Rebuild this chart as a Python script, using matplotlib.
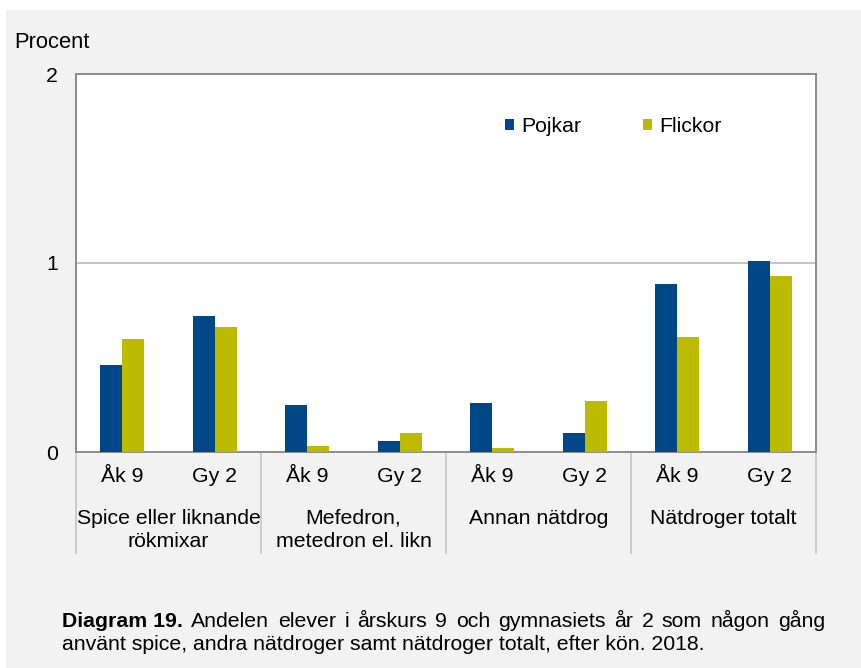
import matplotlib
matplotlib.use("Agg")
import matplotlib.pyplot as plt
import matplotlib.transforms as mtransforms
from matplotlib.patches import Rectangle
import numpy as np

plt.rcParams['font.family'] = ['Liberation Sans', 'DejaVu Sans']

groups = ["Spice eller liknande\nrökmixar", "Mefedron,\nmetedron el. likn",
          "Annan nätdrog", "Nätdroger totalt"]
subcats = ["Åk 9", "Gy 2"]
series_names = ["Pojkar", "Flickor"]
pojkar = [0.46, 0.72, 0.25, 0.06, 0.26, 0.10, 0.89, 1.01]
flickor = [0.60, 0.66, 0.03, 0.10, 0.02, 0.27, 0.61, 0.93]
yticks = [0, 1, 2]
ylabel = "Procent"
caption_bold = "Diagram 19."
caption_line1 = "Andelen elever i årskurs 9 och gymnasiets år 2 som någon gång"
caption_line2 = "använt spice, andra nätdroger samt nätdroger totalt, efter kön. 2018."

col_p = "#004787"
col_f = "#bdbb00"
FS = 15.3

W, H = 861, 668
fig = plt.figure(figsize=(W / 100, H / 100), dpi=100, facecolor="white")
# gray background panel
fig.patches.append(Rectangle((6 / W, 0), 1 - 6 / W, (H - 10) / H,
                             transform=fig.transFigure, facecolor="#f2f2f2",
                             edgecolor="none", zorder=-10))

ax_l, ax_r, ax_t, ax_b = 76, 816, 74, 452
ax = fig.add_axes([ax_l / W, (H - ax_b) / H, (ax_r - ax_l) / W, (ax_b - ax_t) / H])
ax.set_facecolor("white")

n = len(pojkar)
x = np.arange(n)
bw = 0.24
ax.bar(x - bw / 2, pojkar, bw, color=col_p, label=series_names[0], zorder=3)
ax.bar(x + bw / 2, flickor, bw, color=col_f, label=series_names[1], zorder=3)

ax.set_xlim(-0.5, n - 0.5)
ax.set_ylim(0, 2)
ax.set_yticks(yticks)
ax.set_yticklabels([str(t) for t in yticks], fontsize=FS)
ax.tick_params(axis="y", length=0, pad=13)
ax.set_xticks([])
ax.axhline(1, color="#bfbfbf", lw=1.3, zorder=1)
for s in ax.spines.values():
    s.set_color("#8c8c8c")
    s.set_linewidth(1.4)

# sub-category labels
for i in range(n):
    ax.annotate(subcats[i % 2], xy=(x[i], 0), xycoords=("data", "axes fraction"),
                xytext=(0, -25 * 0.72), textcoords="offset points",
                ha="center", va="center", fontsize=FS)
# group labels
for g, name in enumerate(groups):
    ax.annotate(name, xy=(2 * g + 0.5, 0), xycoords=("data", "axes fraction"),
                xytext=(0, -57 * 0.72), textcoords="offset points",
                ha="center", va="top", fontsize=FS, linespacing=1.27)
# separators
trans = mtransforms.blended_transform_factory(ax.transData, ax.transAxes)
sep_depth = (553 - ax_b) / (ax_b - ax_t)
for b in np.arange(-0.5, n, 2):
    ax.plot([b, b], [0, -sep_depth], transform=trans, color="#c8c8c8",
            lw=1.3, clip_on=False)

fig.text(14 / W, 1 - 43 / H, ylabel, fontsize=15.8, ha="left", va="center")

leg = ax.legend(loc="center left", bbox_to_anchor=((505 - ax_l) / (ax_r - ax_l), (ax_b - 127) / (ax_b - ax_t)),
                ncol=2, frameon=False, fontsize=FS, handlelength=0.42, handleheight=0.42,
                handletextpad=0.35, columnspacing=2.9, borderpad=0, borderaxespad=0)

# caption, first line justified
renderer = fig.canvas.get_renderer()
cx0, cx1 = 62, 825
y1, y2 = 627, 650
words = [(caption_bold, "bold")] + [(w, "normal") for w in caption_line1.split(" ")]
txts = []
total = 0
for w, wt in words:
    t = fig.text(0, 1 - y1 / H, w, fontsize=FS, fontweight=wt, ha="left", va="baseline")
    wpx = t.get_window_extent(renderer).width
    txts.append((t, wpx))
    total += wpx
gap = (cx1 - cx0 - total) / (len(words) - 1)
xx = cx0
for t, wpx in txts:
    t.set_x(xx / W)
    xx += wpx + gap
fig.text(cx0 / W, 1 - y2 / H, caption_line2, fontsize=FS, ha="left", va="baseline")

fig.savefig("out.png", dpi=100, facecolor=fig.get_facecolor())
